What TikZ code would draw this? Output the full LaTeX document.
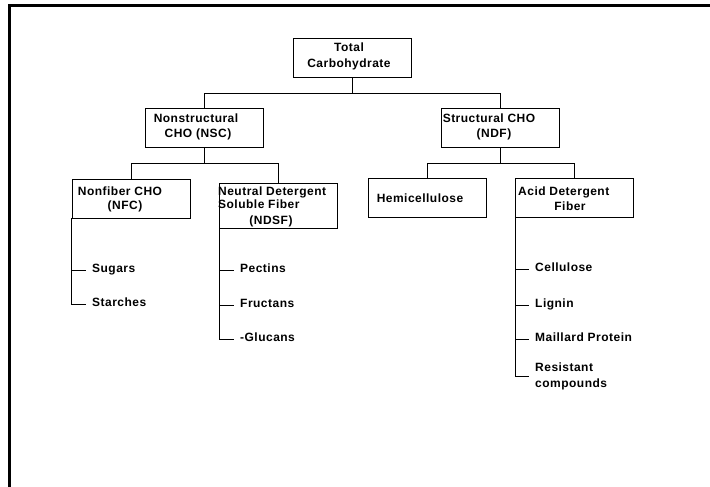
\documentclass[tikz,border=0pt]{standalone}
\usepackage{fontspec}
\setmainfont{Liberation Sans}[LetterSpace=4]
\begin{document}
\begin{tikzpicture}[x=1pt,y=-1pt,
  box/.style={draw, line width=0.8pt, minimum width=118pt, minimum height=39pt, inner sep=0pt},
  lbl/.style={font=\fontsize{12}{13}\selectfont\bfseries, inner sep=0pt},
  conn/.style={line width=0.8pt}]
\useasboundingbox (0,0) rectangle (710,487);
\draw[line width=3pt] (9.5,487) -- (9.5,6) -- (710,6);
% boxes
\node[box] (total) at (352,57.5) {};
\node[box] (nsc) at (204.5,127.5) {};
\node[box] (ndf) at (500.5,127.5) {};
\node[box] (nfc) at (131,198.5) {};
\node[box, minimum height=45pt] (ndsf) at (278.5,205.5) {};
\node[box] (hemi) at (427,198) {};
\node[box] (adf) at (574.5,198) {};
% box texts
\node[lbl, anchor=mid] (tA1) at (349,49) {Total};
\node[lbl, anchor=mid] (tA2) at (349,65) {Carbohydrate};
\node[lbl, anchor=mid] (tB1) at (196,120) {Nonstructural};
\node[lbl, anchor=mid] (tB2) at (198,135) {CHO (NSC)};
\node[lbl, anchor=mid] (tC1) at (489,120) {Structural CHO};
\node[lbl, anchor=mid] (tC2) at (494,135) {(NDF)};
\node[lbl, anchor=mid] (tD1) at (120,193) {Nonfiber CHO};
\node[lbl, anchor=mid] (tD2) at (125,207) {(NFC)};
\node[lbl, anchor=mid west] (tE1) at (218,192.5) {Neutral Detergent};
\node[lbl, anchor=mid west] (tE2) at (218,205.5) {Soluble Fiber};
\node[lbl, anchor=mid] (tE3) at (271,222) {(NDSF)};
\node[lbl, anchor=mid] (tF1) at (420,200) {Hemicellulose};
\node[lbl, anchor=mid west] (tG1) at (518,193) {Acid Detergent};
\node[lbl, anchor=mid] (tG2) at (570,208) {Fiber};
% tree connectors
\coordinate (j1) at (352,93);
\coordinate (j2) at (204.5,163);
\coordinate (j3) at (500.5,163);
\draw[conn] (total.south) -- (j1);
\draw[conn] (nsc.north) -- (nsc.north |- j1) -- (ndf.north |- j1) -- (ndf.north);
\draw[conn] (nsc.south) -- (j2);
\draw[conn] (nfc.north) -- (nfc.north |- j2) -- (ndsf.north |- j2) -- (ndsf.north);
\draw[conn] (ndf.south) -- (j3);
\draw[conn] (hemi.north) -- (hemi.north |- j3) -- (adf.north |- j3) -- (adf.north);
% list items
\node[lbl, anchor=mid west] (sug) at (92,270) {Sugars};
\node[lbl, anchor=mid west] (sta) at (92,304) {Starches};
\node[lbl, anchor=mid west] (pec) at (240,270) {Pectins};
\node[lbl, anchor=mid west] (fru) at (240,305) {Fructans};
\node[lbl, anchor=mid west] (glu) at (240,339) {-Glucans};
\node[lbl, anchor=mid west] (cel) at (535,269) {Cellulose};
\node[lbl, anchor=mid west] (lig) at (535,305) {Lignin};
\node[lbl, anchor=mid west] (mai) at (535,339) {Maillard Protein};
\node[lbl, anchor=west, align=left, font=\fontsize{12}{16}\selectfont\bfseries] (res) at (535,376) {Resistant\\compounds};
% list connectors
\draw[conn] (nfc.south west) |- ([xshift=-6pt]sta.mid west);
\draw[conn] (sug.mid west -| nfc.west) -- ([xshift=-6pt]sug.mid west);
\draw[conn] (ndsf.south west) |- ([xshift=-6pt]glu.mid west);
\draw[conn] (pec.mid west -| ndsf.west) -- ([xshift=-6pt]pec.mid west);
\draw[conn] (fru.mid west -| ndsf.west) -- ([xshift=-6pt]fru.mid west);
\draw[conn] (adf.south west) |- ([xshift=-6pt]res.west);
\draw[conn] (cel.mid west -| adf.west) -- ([xshift=-6pt]cel.mid west);
\draw[conn] (lig.mid west -| adf.west) -- ([xshift=-6pt]lig.mid west);
\draw[conn] (mai.mid west -| adf.west) -- ([xshift=-6pt]mai.mid west);
\end{tikzpicture}
\end{document}
